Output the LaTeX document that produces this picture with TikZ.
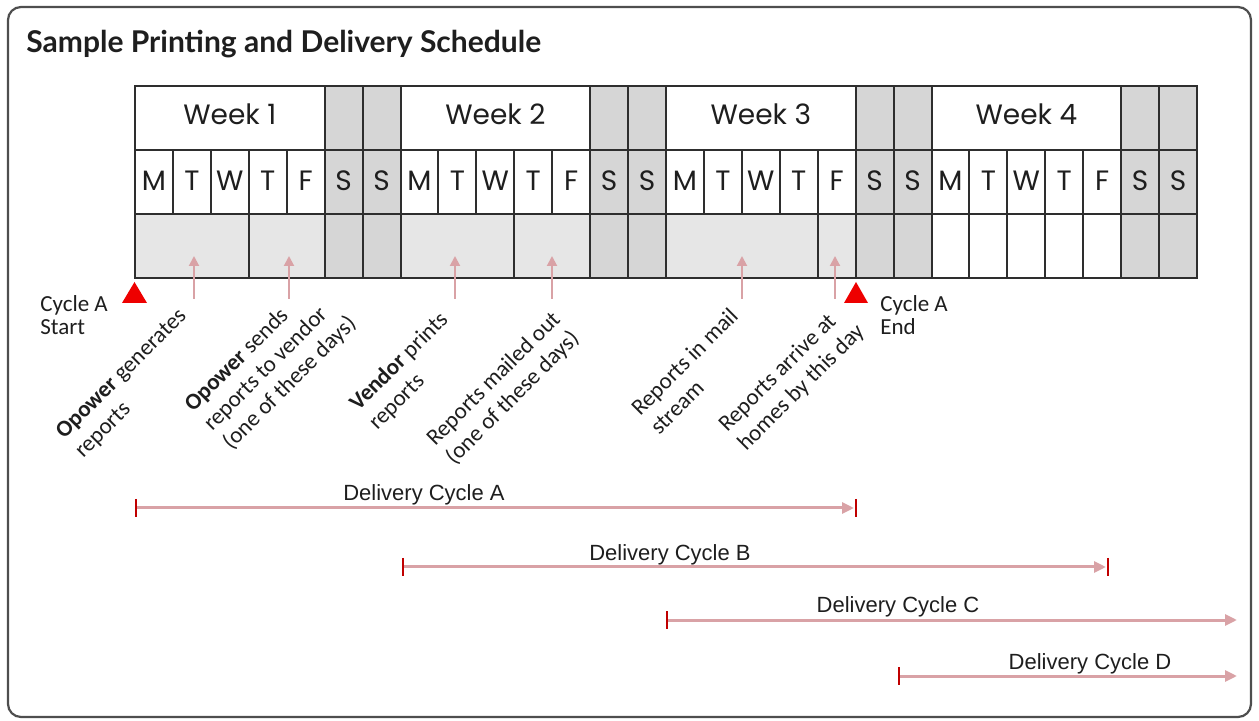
\documentclass[tikz,border=0pt]{standalone}
\usepackage{fontspec}
\setmainfont{Carlito}
\newfontfamily\titlefont{Lato}
\newfontfamily\gridfont{Poppins}
\newfontfamily\arialfont{Liberation Sans}
\usetikzlibrary{arrows.meta}
\definecolor{gridline}{HTML}{2E2E2E}
\definecolor{wkend}{HTML}{D6D6D6}
\definecolor{wkday}{HTML}{E6E6E6}
\definecolor{pinkarrow}{HTML}{D9A2A6}
\definecolor{tickred}{HTML}{C00000}
\definecolor{framecol}{HTML}{4E4E4E}
\definecolor{txt}{HTML}{1E1E1E}
\definecolor{marker}{HTML}{EE0000}
\tikzset{
  gridtxt/.style={font=\gridfont\fontsize{14}{16}\selectfont, text=txt, anchor=base, inner sep=0pt},
  lbl/.style={font=\fontsize{11.5}{14}\selectfont, text=txt, rotate=45, anchor=base west, inner sep=0pt},
  sidetxt/.style={font=\fontsize{11.5}{11.7}\selectfont, text=txt, align=left, anchor=north west, inner sep=0pt},
  uparrow/.style={draw=pinkarrow, line width=1pt, -{Triangle[length=5pt,width=5pt]}},
  cycarrow/.style={draw=pinkarrow, line width=1.5pt, -{Triangle[length=6pt,width=5.5pt]}},
  cyctick/.style={draw=tickred, line width=1pt},
  cyctxt/.style={font=\arialfont\fontsize{11}{13}\selectfont, text=txt, anchor=base, inner sep=0pt},
  gline/.style={draw=gridline, line width=1pt},
}
\begin{document}
\begin{tikzpicture}[x=0.5pt,y=-0.5pt]
\useasboundingbox (0,0) rectangle (1259,721);
% frame
\draw[framecol, line width=1.1pt, rounded corners=6.5pt] (8,7) rectangle (1251,717);
% title
\node[font=\titlefont\bfseries\fontsize{15}{18}\selectfont, text=txt, anchor=base west, inner sep=0pt] (title) at (26,53) {Sample Printing and Delivery Schedule};
% grid geometry
\def\cw{37.93}
% weekend columns
\foreach \w in {0,1,2,3} {
  \pgfmathsetmacro\xb{135+(7*\w+5)*\cw}
  \pgfmathsetmacro\xc{135+(7*\w+7)*\cw}
  \fill[wkend] (\xb,86) rectangle (\xc,278.5);
}
% light grey weekday blocks in the bottom row
\fill[wkday] (135,214) rectangle ({135+5*\cw},278.5);
\fill[wkday] ({135+7*\cw},214) rectangle ({135+12*\cw},278.5);
\fill[wkday] ({135+14*\cw},214) rectangle ({135+19*\cw},278.5);
% outer and horizontal lines
\draw[gline] (135,86) rectangle ({135+28*\cw},278.5);
\draw[gline] (135,150.5) -- ({135+28*\cw},150.5);
\draw[gline] (135,214) -- ({135+28*\cw},214);
% vertical lines, week row
\foreach \w in {0,1,2,3} {
  \foreach \k in {5,6,7} {
    \pgfmathsetmacro\xx{135+(7*\w+\k)*\cw}
    \draw[gline] (\xx,86) -- (\xx,150.5);
  }
}
% vertical lines, day row
\foreach \i in {1,...,27} {
  \pgfmathsetmacro\xx{135+\i*\cw}
  \draw[gline] (\xx,150.5) -- (\xx,214);
}
% vertical lines, bottom row
\foreach \i in {3,5,6,7,10,12,13,14,18,19,20,21,22,23,24,25,26,27} {
  \pgfmathsetmacro\xx{135+\i*\cw}
  \draw[gline] (\xx,214) -- (\xx,278.5);
}
% week labels
\foreach \w in {0,1,2,3} {
  \pgfmathtruncatemacro\wn{\w+1}
  \pgfmathsetmacro\xm{135+(7*\w+2.5)*\cw}
  \node[gridtxt] (week\wn) at (\xm,125) {Week \wn};
}
% day labels
\foreach \d [count=\i from 0] in {M,T,W,T,F,S,S,M,T,W,T,F,S,S,M,T,W,T,F,S,S,M,T,W,T,F,S,S} {
  \pgfmathsetmacro\xm{135+(\i+0.5)*\cw}
  \node[gridtxt] (day\i) at (\xm,190.5) {\d};
}
% up arrows
\foreach \ax [count=\n] in {194,289,455,552,742,835} {
  \coordinate (ab\n) at (\ax,299);
  \coordinate (at\n) at (\ax,256);
  \draw[uparrow] (ab\n) -- (at\n);
}
% cycle A markers
\fill[marker] (122,303) -- (147,303) -- (134.5,282) -- cycle;
\fill[marker] (844,303) -- (868,303) -- (856,282) -- cycle;
\node[sidetxt] (cstart) at (40,295) {Cycle A\\Start};
\node[sidetxt] (cend) at (880,295) {Cycle A\\End};
% rotated labels
\node[lbl] (l1a) at (64,440) {\textbf{Opower} generates};
\node[lbl] (l1b) at (83,459) {reports};
\node[lbl] (l2a) at (193,413) {\textbf{Opower} sends};
\node[lbl] (l2b) at (212,432) {reports to vendor};
\node[lbl] (l2c) at (231,451) {(one of these days)};
\node[lbl] (l3a) at (358,412) {\textbf{Vendor} prints};
\node[lbl] (l3b) at (377,431) {reports};
\node[lbl] (l4a) at (435,447) {Reports mailed out};
\node[lbl] (l4b) at (454,466) {(one of these days)};
\node[lbl] (l5a) at (640,417) {Reports in mail};
\node[lbl] (l5b) at (659,436) {stream};
\node[lbl] (l6a) at (727,433) {Reports arrive at};
\node[lbl] (l6b) at (746,452) {homes by this day};
% delivery cycles
\coordinate (cAs) at (136,508); \coordinate (cAe) at (856,508);
\coordinate (cBs) at (403,567); \coordinate (cBe) at (1108,567);
\coordinate (cCs) at (667,620); \coordinate (cCe) at (1237,620);
\coordinate (cDs) at (899,676); \coordinate (cDe) at (1237,676);
\draw[cycarrow] (cAs) -- ([xshift=-1pt]cAe);
\draw[cycarrow] (cBs) -- ([xshift=-1pt]cBe);
\draw[cycarrow] (cCs) -- (cCe);
\draw[cycarrow] (cDs) -- (cDe);
\foreach \c in {cAs,cAe,cBs,cBe,cCs,cDs} {
  \draw[cyctick] ([yshift=4.5pt]\c) -- ([yshift=-4.5pt]\c);
}
\node[cyctxt] (tA) at (424,501) {Delivery Cycle A};
\node[cyctxt] (tB) at (670,560) {Delivery Cycle B};
\node[cyctxt] (tC) at (898,612) {Delivery Cycle C};
\node[cyctxt] (tD) at (1090,669) {Delivery Cycle D};
\end{tikzpicture}
\end{document}
